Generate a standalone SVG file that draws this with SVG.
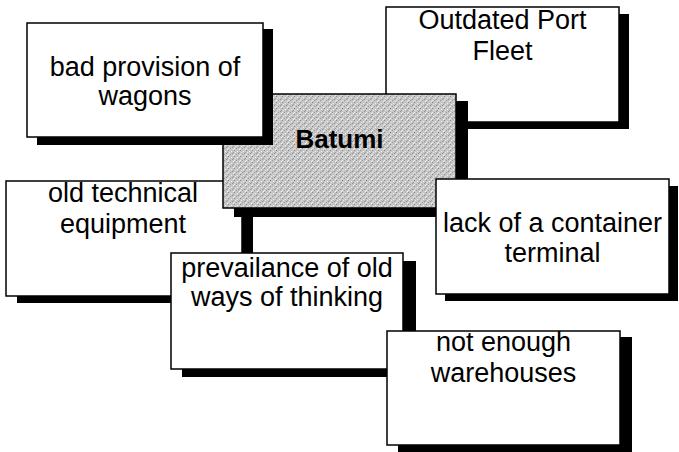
<svg xmlns="http://www.w3.org/2000/svg" width="679" height="452" viewBox="0 0 679 452">
<style>
.box{fill:#fff;stroke:#000;stroke-width:1.5}
.sh{fill:#000}
.t{font-family:"Liberation Sans",Arial,sans-serif;font-size:27px;fill:#000;text-anchor:middle}
.tb{font-family:"Liberation Sans",Arial,sans-serif;font-size:26px;font-weight:bold;fill:#000;text-anchor:middle}
</style>
<defs>
<pattern id="dither" width="6" height="6" patternUnits="userSpaceOnUse">
<rect width="6" height="6" fill="#c6c6c6"/>
<rect x="0" y="0" width="1" height="1" fill="#8a8a8a"/>
<rect x="3" y="1" width="1" height="1" fill="#f0f0f0"/>
<rect x="1" y="2" width="1" height="1" fill="#e8e8e8"/>
<rect x="4" y="3" width="1" height="1" fill="#909090"/>
<rect x="2" y="4" width="1" height="1" fill="#9a9a9a"/>
<rect x="5" y="5" width="1" height="1" fill="#f2f2f2"/>
<rect x="5" y="2" width="1" height="1" fill="#a0a0a0"/>
<rect x="0" y="4" width="1" height="1" fill="#eeeeee"/>
</pattern>
</defs>
<g id="connectors"/>
<g id="node-fleet">
<rect class="sh" x="396" y="14" width="233" height="115"/>
<rect class="box" x="386" y="7" width="233" height="115"/>
<text class="t" x="502.5" y="29">Outdated Port</text>
<text class="t" x="502.5" y="60">Fleet</text>
</g>
<g id="node-equipment">
<rect class="sh" x="17" y="188" width="236" height="115"/>
<rect class="box" x="6" y="181" width="236" height="115"/>
<text class="t" x="123" y="202">old technical</text>
<text class="t" x="123" y="233">equipment</text>
</g>
<g id="node-batumi">
<rect class="sh" x="234" y="101" width="234" height="116"/>
<rect x="223" y="94" width="233" height="114" fill="url(#dither)" stroke="#000" stroke-width="1.5"/>
<text class="tb" x="339.5" y="148">Batumi</text>
</g>
<g id="node-wagons">
<rect class="sh" x="37" y="29" width="236" height="116"/>
<rect class="box" x="27" y="23" width="236" height="114"/>
<text class="t" x="145" y="76">bad provision of</text>
<text class="t" x="145" y="105">wagons</text>
</g>
<g id="node-container">
<rect class="sh" x="445" y="186" width="233" height="115"/>
<rect class="box" x="436" y="179" width="233" height="115"/>
<text class="t" x="552.5" y="232">lack of a container</text>
<text class="t" x="552.5" y="262">terminal</text>
</g>
<g id="node-thinking">
<rect class="sh" x="182" y="261" width="234" height="116"/>
<rect class="box" x="171" y="253" width="232" height="116"/>
<text class="t" x="287" y="277">prevailance of old</text>
<text class="t" x="287" y="306">ways of thinking</text>
</g>
<g id="node-warehouses">
<rect class="sh" x="398" y="337" width="234" height="115"/>
<rect class="box" x="387" y="331" width="233" height="114"/>
<text class="t" x="503.5" y="351">not enough</text>
<text class="t" x="503.5" y="382">warehouses</text>
</g>
</svg>
